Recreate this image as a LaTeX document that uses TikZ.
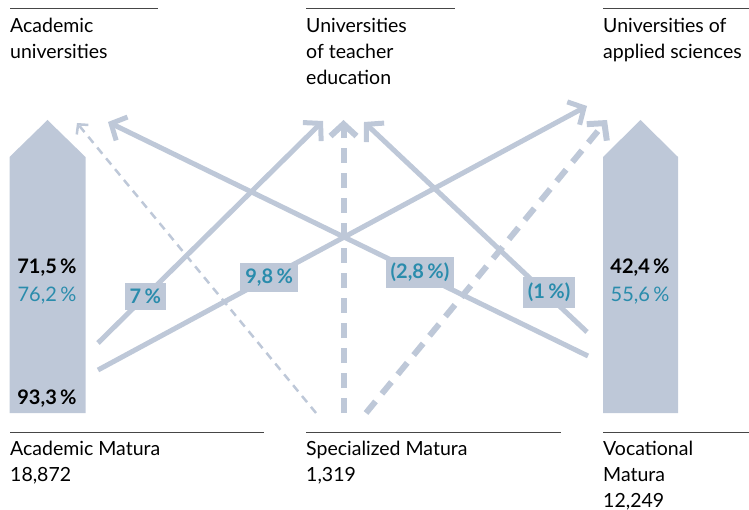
\documentclass[tikz,border=0pt]{standalone}
\usepackage{fontspec}
\setmainfont{Lato}
\usetikzlibrary{arrows.meta, positioning}

\definecolor{flow}{RGB}{190,200,216}
\definecolor{share}{RGB}{42,140,172}
\definecolor{rulegray}{RGB}{70,70,70}

\tikzset{
  heading/.style={anchor=base west, align=left, inner sep=0pt,
                  font=\fontsize{19.5}{26}\selectfont},
  pct/.style={anchor=base, inner sep=0pt, font=\fontsize{20}{24}\selectfont},
  pctbold/.style={pct, font=\bfseries\fontsize{20}{24}\selectfont},
  flowbox/.style={fill=flow, text=share, inner xsep=5pt, inner ysep=6pt,
                  font=\bfseries\fontsize{20}{24}\selectfont},
  solidflow/.style={draw=flow, line width=5pt,
                    -{Straight Barb[length=12pt,width=26pt]}},
  thickdash/.style={draw=flow, line width=6pt, dash pattern=on 15pt off 10pt,
                    -{Straight Barb[length=12pt,width=26pt]}},
  thindash/.style={draw=flow, line width=2.5pt, dash pattern=on 8pt off 6pt,
                   -{Straight Barb[length=7pt,width=15pt]}},
  hrule/.style={draw=rulegray, line width=0.9pt},
}

\begin{document}
\begin{tikzpicture}[x=1pt, y=-1pt]
  \useasboundingbox (0,0) rectangle (749,510);

  % bars with the share of each matura
  \fill[flow] (9.5,413) -- (9.5,157) -- (47.5,120) -- (85.5,157) -- (85.5,413) -- cycle;
  \fill[flow] (603,413) -- (603,157) -- (640.5,120) -- (678,157) -- (678,413) -- cycle;

  % rules
  \draw[hrule] (10,8) -- (158,8);
  \draw[hrule] (306,8) -- (455,8);
  \draw[hrule] (603,8) -- (749,8);
  \draw[hrule] (10,432) -- (264,432);
  \draw[hrule] (306,432) -- (561,432);
  \draw[hrule] (603,432) -- (749,432);

  % headings (anchored on the baseline of their last line)
  \node[heading] (acad) at (10,59) {Academic\\universities};
  \node[heading] (teach) at (306,85) {Universities\\of teacher\\education};
  \node[heading] (appl) at (603,59) {Universities of\\applied sciences};
  \node[heading] (amat) at (10,481) {Academic Matura\\18,872};
  \node[heading] (smat) at (306,481) {Specialized Matura\\1,319};
  \node[heading] (vmat) at (603,507) {Vocational\\Matura\\12,249};

  % shares inside the bars
  \node[pctbold] (am-a) at (47,274) {71,5\,\%};
  \node[pct, text=share] (am-b) at (47,302) {76,2\,\%};
  \node[pctbold] (am-c) at (47,404) {93,3\,\%};
  \node[pctbold] (vm-a) at (640,274) {42,4\,\%};
  \node[pct, text=share] (vm-b) at (640,302) {55,6\,\%};

  % start and end points of the flows
  \coordinate (am-hi) at (98,343);
  \coordinate (am-lo) at (98,370);
  \coordinate (sm-l) at (316,413);
  \coordinate (sm-m) at (343.5,413);
  \coordinate (sm-r) at (366,413);
  \coordinate (vm-hi) at (587,332);
  \coordinate (vm-lo) at (588,356);
  \coordinate (au-1) at (77,123);
  \coordinate (au-2) at (108,122);
  \coordinate (te-1) at (323,121);
  \coordinate (te-2) at (343.5,120);
  \coordinate (te-3) at (364,122);
  \coordinate (as-1) at (587,106);
  \coordinate (as-2) at (607,120);

  % flows
  \draw[thindash] (sm-l) -- (au-1);
  \draw[thickdash] (sm-m) -- (te-2);
  \draw[thickdash] (sm-r) -- (as-2);
  \draw[solidflow] (am-hi) -- node[flowbox, pos=.21] (f-7) {7\,\%} (te-1);
  \draw[solidflow] (am-lo) -- node[flowbox, pos=.35] (f-98) {9,8\,\%} (as-1);
  \draw[solidflow] (vm-lo) -- node[flowbox, pos=.35, yshift=2pt] (f-28) {(2,8\,\%)} (au-2);
  \draw[solidflow] (vm-hi) -- node[flowbox, pos=.17, yshift=4pt] (f-1) {(1\,\%)} (te-3);
\end{tikzpicture}
\end{document}
